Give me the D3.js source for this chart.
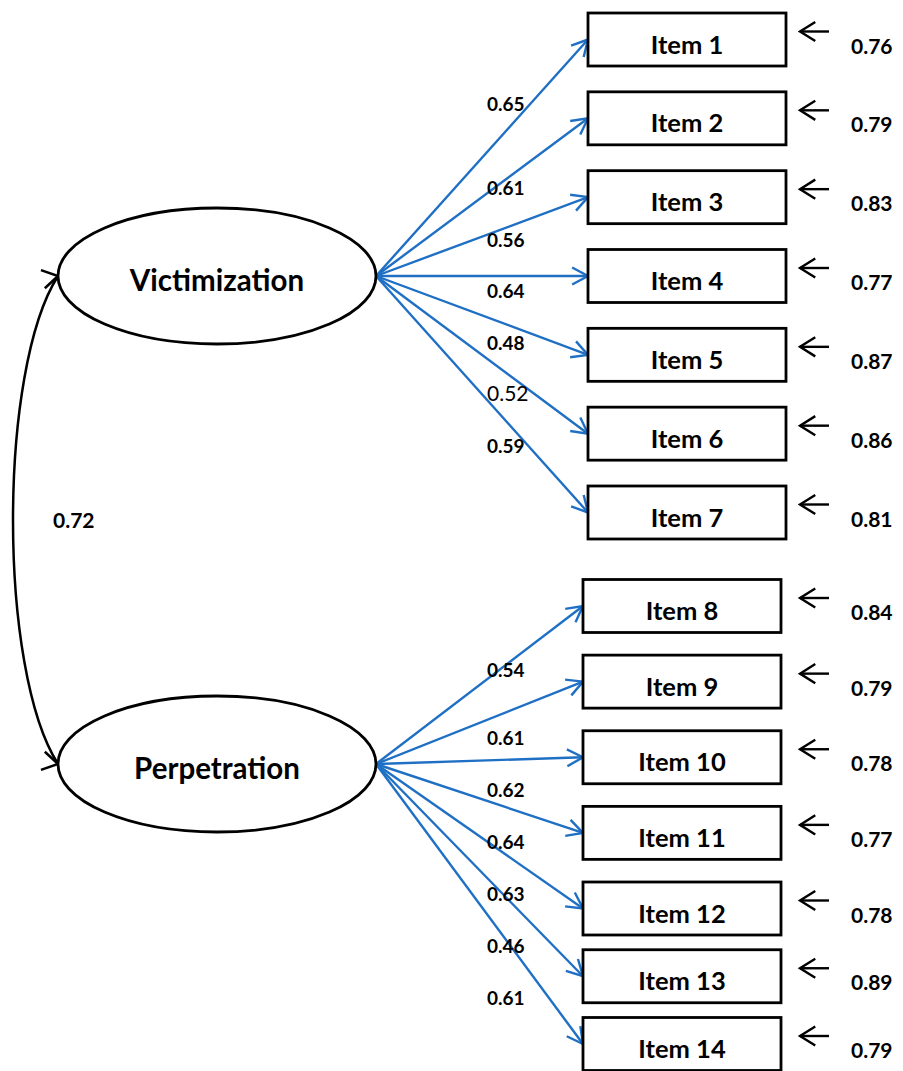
<!DOCTYPE html>
<html>
<head>
<meta charset="utf-8">
<script src="https://cdn.jsdelivr.net/npm/d3@7"></script>
<style>
  body { margin: 0; background: #fff; }
  svg { display: block; font-family: Lato, "Open Sans", sans-serif; }
</style>
</head>
<body>
<div id="chart"></div>
<script>
// Model values
const latents = ["Victimization", "Perpetration"];
const items = ["Item 1", "Item 2", "Item 3", "Item 4", "Item 5", "Item 6", "Item 7",
               "Item 8", "Item 9", "Item 10", "Item 11", "Item 12", "Item 13", "Item 14"];
const itemFactor = ["Victimization", "Victimization", "Victimization", "Victimization",
                    "Victimization", "Victimization", "Victimization",
                    "Perpetration", "Perpetration", "Perpetration", "Perpetration",
                    "Perpetration", "Perpetration", "Perpetration"];
const loadings = [0.65, 0.61, 0.56, 0.64, 0.48, 0.52, 0.59,
                  0.54, 0.61, 0.62, 0.64, 0.63, 0.46, 0.61];
const residuals = [0.76, 0.79, 0.83, 0.77, 0.87, 0.86, 0.81,
                   0.84, 0.79, 0.78, 0.77, 0.78, 0.89, 0.79];
const factorCorrelation = 0.72;

(function() {
  const width = 903, height = 1071;
  const blue = "#1f70c4";

  const svg = d3.select("#chart").append("svg")
    .attr("width", width)
    .attr("height", height);

  // Latent factor vertical positions
  const yLatent = d3.scalePoint().domain(latents).range([276, 764]);
  const latentCx = 217, latentRx = 159, latentRy = 68;

  // Item box centres per factor (index within group -> y)
  const yItem = {
    Victimization: d3.scaleLinear().domain([0, 6]).range([39.5, 512.5]),
    Perpetration: d3.scaleLinear().domain([0, 4, 6]).range([606, 908.5, 1044])
  };
  // Loading label baselines per factor
  const yLabel = {
    Victimization: d3.scaleLinear().domain([0, 1, 6]).range([111, 195, 453]),
    Perpetration: d3.scaleLinear().domain([0, 1, 6]).range([677, 745, 1005])
  };
  const boxLeft = { Victimization: 588, Perpetration: 583 };
  const boxW = 198, boxH = 53;

  // Build node records
  const counter = {};
  const nodes = items.map((name, i) => {
    const f = itemFactor[i];
    const k = counter[f] = (counter[f] === undefined ? 0 : counter[f] + 1);
    return {
      name: name,
      factor: f,
      loading: loadings[i],
      residual: residuals[i],
      x: boxLeft[f],
      y: yItem[f](k),
      labelY: yLabel[f](k)
    };
  });

  // Open arrowhead path at tip, pointing along angle
  function arrowHead(tx, ty, angle, len, spread) {
    const back = angle + Math.PI;
    const a1 = [tx + len * Math.cos(back - spread), ty + len * Math.sin(back - spread)];
    const a2 = [tx + len * Math.cos(back + spread), ty + len * Math.sin(back + spread)];
    return `M${a1[0]},${a1[1]} L${tx},${ty} L${a2[0]},${a2[1]}`;
  }

  // --- Factor correlation curve ---
  const topY = yLatent("Victimization"), botY = yLatent("Perpetration");
  const tipX = latentCx - latentRx;
  svg.append("path")
    .attr("d", `M${tipX},${topY} C${-2},${topY + 94} ${-2},${botY - 94} ${tipX},${botY}`)
    .attr("fill", "none")
    .attr("stroke", "#000")
    .attr("stroke-width", 2.5);

  svg.append("path")
    .attr("d", arrowHead(tipX, topY, -12 * Math.PI / 180, 18, 31 * Math.PI / 180))
    .attr("fill", "none").attr("stroke", "#000").attr("stroke-width", 2.5);
  svg.append("path")
    .attr("d", arrowHead(tipX, botY, 12 * Math.PI / 180, 18, 31 * Math.PI / 180))
    .attr("fill", "none").attr("stroke", "#000").attr("stroke-width", 2.5);

  svg.append("text")
    .attr("x", 53).attr("y", 528)
    .attr("font-size", 21).attr("font-weight", "bold")
    .text(factorCorrelation.toFixed(2));

  // --- Loading arrows ---
  const links = svg.append("g").attr("class", "links");
  nodes.forEach(d => {
    const ox = latentCx + latentRx, oy = yLatent(d.factor);
    const tx = d.x, ty = d.y;
    const ang = Math.atan2(ty - oy, tx - ox);
    links.append("line")
      .attr("x1", ox).attr("y1", oy)
      .attr("x2", tx).attr("y2", ty)
      .attr("stroke", blue).attr("stroke-width", 2.4);
    links.append("path")
      .attr("d", arrowHead(tx, ty, ang, 18, 28 * Math.PI / 180))
      .attr("fill", "none").attr("stroke", blue).attr("stroke-width", 2.4);
  });

  // Loading labels
  svg.append("g").selectAll("text")
    .data(nodes)
    .enter().append("text")
    .attr("x", 487)
    .attr("y", d => d.labelY)
    .attr("font-size", d => d.name === "Item 6" ? 21 : 19)
    .attr("font-weight", d => d.name === "Item 6" ? "normal" : "bold")
    .text(d => d.loading.toFixed(2));

  // --- Latent ellipses ---
  const lat = svg.append("g").selectAll("g.latent")
    .data(latents)
    .enter().append("g")
    .attr("class", "latent");

  lat.append("ellipse")
    .attr("cx", latentCx)
    .attr("cy", d => yLatent(d))
    .attr("rx", latentRx).attr("ry", latentRy)
    .attr("fill", "#fff")
    .attr("stroke", "#000").attr("stroke-width", 2.8);

  lat.append("text")
    .attr("x", latentCx)
    .attr("y", d => yLatent(d) + 15)
    .attr("text-anchor", "middle")
    .attr("font-size", 29.5).attr("font-weight", "bold")
    .text(d => d);

  // --- Item boxes ---
  const box = svg.append("g").selectAll("g.item")
    .data(nodes)
    .enter().append("g")
    .attr("class", "item");

  box.append("rect")
    .attr("x", d => d.x)
    .attr("y", d => d.y - boxH / 2)
    .attr("width", boxW).attr("height", boxH)
    .attr("fill", "#fff")
    .attr("stroke", "#000").attr("stroke-width", 2.8);

  box.append("text")
    .attr("x", d => d.x + boxW / 2)
    .attr("y", d => d.y + 14)
    .attr("text-anchor", "middle")
    .attr("font-size", 25.5).attr("font-weight", "bold")
    .text(d => d.name);

  // --- Residual arrows and values ---
  box.append("line")
    .attr("x1", 829).attr("y1", d => d.y - 8)
    .attr("x2", 800).attr("y2", d => d.y - 8)
    .attr("stroke", "#000").attr("stroke-width", 2.4);
  box.append("path")
    .attr("d", d => arrowHead(800, d.y - 8, Math.PI, 18, 32 * Math.PI / 180))
    .attr("fill", "none").attr("stroke", "#000").attr("stroke-width", 2.4);

  box.append("text")
    .attr("x", 851)
    .attr("y", d => d.y + 14)
    .attr("font-size", 21).attr("font-weight", "bold")
    .text(d => d.residual.toFixed(2));
})();
</script>
</body>
</html>
